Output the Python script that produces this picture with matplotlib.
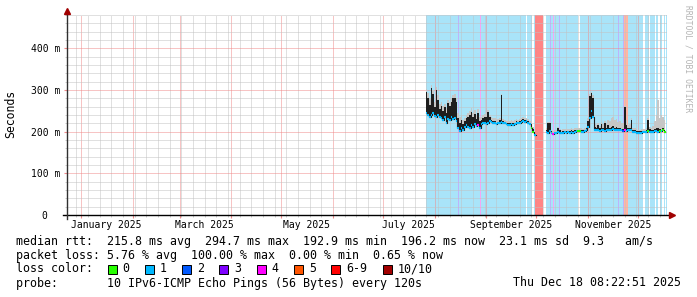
import numpy as np
import pandas as pd
import matplotlib
import matplotlib.pyplot as plt
import matplotlib.dates as mdates
from matplotlib.ticker import MultipleLocator
from matplotlib.patches import Rectangle

matplotlib.use("Agg")
plt.rcParams["font.family"] = "DejaVu Sans Mono"

# daily samples starting at data_start, values in ms (nan = no data)
data_start = "2025-07-27"
nan = float("nan")
median_ms = [
    245, 240, 235, 240, 245, 238, 235, 240, 235, 232,
    228, 236, 222, 230, 228, 236, 230, 232, 225, 210,
    202, 210, 205, 212, 215, 212, 210, 215, 212, 218,
    214, 216, 210, 218, 220, 222, 219, 222, 225, 223,
    222, 220, 218, 220, 222, 224, 222, 220, 218, 217,
    216, 218, 216, 218, 220, 220, 222, 224, 226, 224,
    225, 222, 218, 210, 200, 192, nan, nan, nan, nan,
    nan, nan, 200, 198, 202, 196, 195, 196, 197, 200,
    197, 196, 198, 199, 198, 199, 198, 199, 198, 200,
    201, 202, 201, 200, 199, 201, 203, 212, 232, 250,
    236, 205, 203, 204, 202, 203, 204, 202, 203, 205,
    204, 205, 206, 204, 205, 203, 204, 203, 202, 205,
    202, 203, 204, 205, 200, 199, 198, 198, 198, 198,
    199, 199, 200, 202, 200, 199, 200, 201, 202, 200,
    202, 201, 203, 200,
]
dark_top_ms = [
    295, 280, 265, 305, 290, 260, 300, 275, 255, 262,
    250, 258, 245, 268, 262, 272, 280, 282, 270, 232,
    222, 228, 218, 225, 232, 235, 240, 248, 235, 242,
    230, 246, 226, 228, 232, 236, 235, 248, 235, 228,
    226, 226, 222, 224, 228, 288, 226, 224, 222, 221,
    220, 222, 220, 222, 226, 224, 226, 228, 230, 228,
    229, 226, 222, 214, 206, 196, nan, nan, nan, nan,
    nan, nan, 204, 221, 220, 200, 198, 200, 200, 209,
    203, 200, 201, 202, 201, 202, 202, 203, 202, 204,
    204, 205, 204, 203, 203, 205, 208, 225, 285, 293,
    282, 212, 210, 215, 208, 218, 210, 220, 209, 216,
    210, 212, 214, 210, 212, 208, 209, 207, 206, 258,
    215, 208, 210, 228, 204, 203, 201, 201, 201, 201,
    202, 202, 203, 228, 206, 203, 204, 206, 208, 210,
    206, 205, 208, 204,
]
smoke_top_ms = [
    302, 292, 280, 312, 300, 272, 308, 288, 266, 272,
    262, 266, 256, 276, 270, 280, 288, 290, 280, 244,
    234, 238, 228, 232, 240, 245, 250, 256, 246, 252,
    240, 254, 236, 235, 240, 242, 244, 252, 240, 234,
    232, 232, 230, 230, 232, 290, 230, 228, 226, 226,
    225, 228, 226, 228, 230, 229, 230, 232, 234, 233,
    232, 230, 226, 220, 212, 200, nan, nan, nan, nan,
    nan, nan, 208, 224, 224, 204, 202, 204, 205, 212,
    207, 204, 206, 206, 206, 207, 206, 208, 206, 208,
    208, 209, 208, 208, 207, 210, 212, 232, 290, 296,
    288, 218, 216, 220, 214, 224, 218, 226, 222, 228,
    226, 232, 235, 228, 230, 224, 226, 222, 220, 262,
    228, 216, 218, 232, 210, 208, 206, 205, 205, 206,
    206, 207, 208, 232, 212, 210, 214, 226, 240, 276,
    232, 240, 236, 228,
]
median_loss = [
    1, 1, 1, 1, 1, 1, 1, 1, 1, 1,
    1, 1, 1, 1, 1, 1, 1, 1, 1, 1,
    1, 1, 1, 1, 1, 1, 1, 1, 1, 1,
    1, 4, 1, 1, 1, 1, 1, 1, 1, 1,
    1, 1, 1, 1, 1, 1, 1, 1, 1, 1,
    1, 1, 1, 1, 1, 1, 1, 1, 1, 1,
    1, 1, 1, 0, 0, 1, 1, 1, 1, 1,
    1, 1, 1, 1, 1, 1, 4, 1, 1, 1,
    1, 1, 1, 1, 1, 1, 1, 1, 1, 1,
    1, 0, 0, 1, 1, 1, 1, 1, 1, 1,
    1, 1, 1, 1, 1, 1, 1, 1, 1, 1,
    1, 1, 1, 1, 1, 1, 1, 1, 2, 4,
    1, 1, 1, 1, 1, 1, 1, 1, 1, 1,
    1, 1, 1, 0, 1, 1, 1, 1, 1, 1,
    0, 1, 0, 0,
]

# loss background spans
span_start = ["2025-07-26 22:00", "2025-09-25 07:00", "2025-09-29 07:00", "2025-09-30 07:00",
              "2025-10-06 17:00", "2025-10-27 00:00", "2025-12-05 00:00", "2025-12-08 02:00",
              "2025-12-11 22:00", "2025-12-13 22:00", "2025-12-16 07:00", "2025-12-17 22:00",
              "2025-08-15 04:00", "2025-08-28 00:00", "2025-10-09 00:00", "2025-10-11 00:00",
              "2025-10-14 10:00", "2025-11-19 00:00", "2025-11-22 00:00", "2025-11-22 14:00"]
span_end = ["2025-09-24 12:00", "2025-09-28 07:00", "2025-09-30 07:00", "2025-10-05 02:00",
            "2025-10-26 00:00", "2025-12-04 00:00", "2025-12-07 12:00", "2025-12-10 22:00",
            "2025-12-12 22:00", "2025-12-15 07:00", "2025-12-17 07:00", "2025-12-18 08:00",
            "2025-08-15 18:00", "2025-08-28 14:00", "2025-10-09 14:00", "2025-10-11 14:00",
            "2025-10-15 00:00", "2025-11-19 14:00", "2025-11-22 14:00", "2025-11-25 00:00"]
span_loss = [1, 1, 1, 6, 1, 1, 1, 1, 1, 1, 1, 1, 3, 4, 3, 4, 3, 3, 3, 5]

month_labels = ["January 2025", "March 2025", "May 2025", "July 2025", "September 2025", "November 2025"]
month_label_dates = ["2025-01-16", "2025-03-16", "2025-05-16", "2025-07-16", "2025-09-16", "2025-11-16"]

legend_keys = ["0", "1", "2", "3", "4", "5", "6-9", "10/10"]
legend_loss = [0, 1, 2, 3, 4, 5, 6, 10]

loss_colors = {0: "#26ff00", 1: "#00b8ff", 2: "#0059ff", 3: "#7e00ff", 4: "#ff00ff",
               5: "#ff5500", 6: "#ff0000", 10: "#a10000"}
shade_colors = {0: "#aaff99", 1: "#a9e4f9", 2: "#a6bdff", 3: "#bdb3fb", 4: "#f3a6f3",
                5: "#ffb5a3", 6: "#ff8585", 10: "#d99a9a"}

t_end = pd.Timestamp("2025-12-18 08:22:51")
t_start = t_end - pd.Timedelta(days=360)

W, H = 697, 297
fig = plt.figure(figsize=(W / 100, H / 100), dpi=100)
fig.patch.set_facecolor("white")
ax = fig.add_axes([67 / W, 1 - 215 / H, 600 / W, 200 / H])

days = pd.date_range(data_start, periods=len(median_ms), freq="D")
xd = mdates.date2num(days)
med = np.array(median_ms, float) / 1000
dark = np.array(dark_top_ms, float) / 1000
smoke = np.array(smoke_top_ms, float) / 1000
ok = ~np.isnan(med)

# loss background
for s, e, c in zip(span_start, span_end, span_loss):
    ax.axvspan(pd.Timestamp(s), pd.Timestamp(e), color=shade_colors[c], lw=0, zorder=1)

# smoke + median
ax.fill_between(xd, med - 0.002, smoke, where=ok, step="mid", color="#c6c6c6", lw=0, zorder=3)
ax.fill_between(xd, med, dark, where=ok, step="mid", color="#1e1e1e", lw=0, zorder=4)
ax.step(xd, med, where="mid", color="#1e1e1e", lw=0.8, zorder=5)
ax.hlines(med[ok], xd[ok] - 0.5, xd[ok] + 0.5,
          colors=[loss_colors[c] for c, k in zip(median_loss, ok) if k], lw=1.5, zorder=6)

ax.set_xlim(t_start, t_end)
ax.set_ylim(0, 0.48)

# dotted grid
ax.set_axisbelow(False)
ax.xaxis.set_major_locator(mdates.MonthLocator())
ax.xaxis.set_minor_locator(mdates.WeekdayLocator(byweekday=mdates.SU))
ax.yaxis.set_major_locator(MultipleLocator(0.1))
ax.yaxis.set_minor_locator(MultipleLocator(0.02))
ax.grid(which="minor", color="#c2c2c2", ls=(0, (1, 1)), lw=0.72)
ax.grid(which="major", color="#f08a8a", ls=(0, (1, 1)), lw=0.72)
ax.set_yticks([0, 0.1, 0.2, 0.3, 0.4])
ax.set_yticklabels(["0  ", "100 m", "200 m", "300 m", "400 m"])
ax.tick_params(axis="y", which="major", length=2.2, color="#f08a8a", labelsize=7, pad=2.8)
ax.tick_params(axis="y", which="minor", length=1.4, color="#c2c2c2")
ax.tick_params(axis="x", which="major", length=2.2, color="#f08a8a", labelbottom=False)
ax.tick_params(axis="x", which="minor", length=1.4, color="#c2c2c2")
for sp in ax.spines.values():
    sp.set_visible(False)

for lbl, d in zip(month_labels, month_label_dates):
    ax.text(pd.Timestamp(d), -0.05, lbl, transform=ax.get_xaxis_transform(),
            ha="center", va="center", fontsize=7)

# axes with arrows
ax.plot([-4 / 600, 1 + 3 / 600], [0, 0], color="black", lw=1, transform=ax.transAxes, clip_on=False, zorder=7)
ax.plot([0, 0], [-4 / 200, 1 + 3 / 200], color="#303030", lw=1, transform=ax.transAxes, clip_on=False, zorder=7)
ax.plot(1 + 5 / 600, 0, marker=">", color="#a00000", ms=4, transform=ax.transAxes, clip_on=False, zorder=8)
ax.plot(0, 1 + 4.5 / 200, marker="^", color="#a00000", ms=4, transform=ax.transAxes, clip_on=False, zorder=8)

fig.text(11 / W, 1 - 114 / H, "Seconds", rotation=90, ha="center", va="center", fontsize=8.3)
fig.text(688 / W, 1 - 59 / H, "RRDTOOL / TOBI OETIKER", rotation=270, ha="center", va="center",
         fontsize=5.8, color="#b4b4b4")

# legend block
fs = 8.4
fig.text(16 / W, 1 - 241 / H,
         "median rtt:  215.8 ms avg  294.7 ms max  192.9 ms min  196.2 ms now  23.1 ms sd  9.3   am/s",
         va="center", fontsize=fs)
fig.text(16 / W, 1 - 255 / H,
         "packet loss: 5.76 % avg  100.00 % max  0.00 % min  0.65 % now",
         va="center", fontsize=fs)
fig.text(16 / W, 1 - 269 / H, "loss color:", va="center", fontsize=fs)
bx = 107.5
for key, c in zip(legend_keys, legend_loss):
    fig.add_artist(Rectangle((bx / W, 1 - 273.5 / H), 9 / W, 9 / H, transform=fig.transFigure,
                             facecolor=loss_colors[c], edgecolor="black", lw=0.7))
    fig.text((bx + 15) / W, 1 - 269 / H, key, va="center", fontsize=fs)
    bx += 30.3 + 7 * len(key)
fig.text(16 / W, 1 - 283 / H, "probe:       10 IPv6-ICMP Echo Pings (56 Bytes) every 120s",
         va="center", fontsize=fs)
fig.text(681 / W, 1 - 283 / H, "Thu Dec 18 08:22:51 2025", ha="right", va="center", fontsize=fs)

fig.savefig("out.png", dpi=100)
plt.close(fig)
